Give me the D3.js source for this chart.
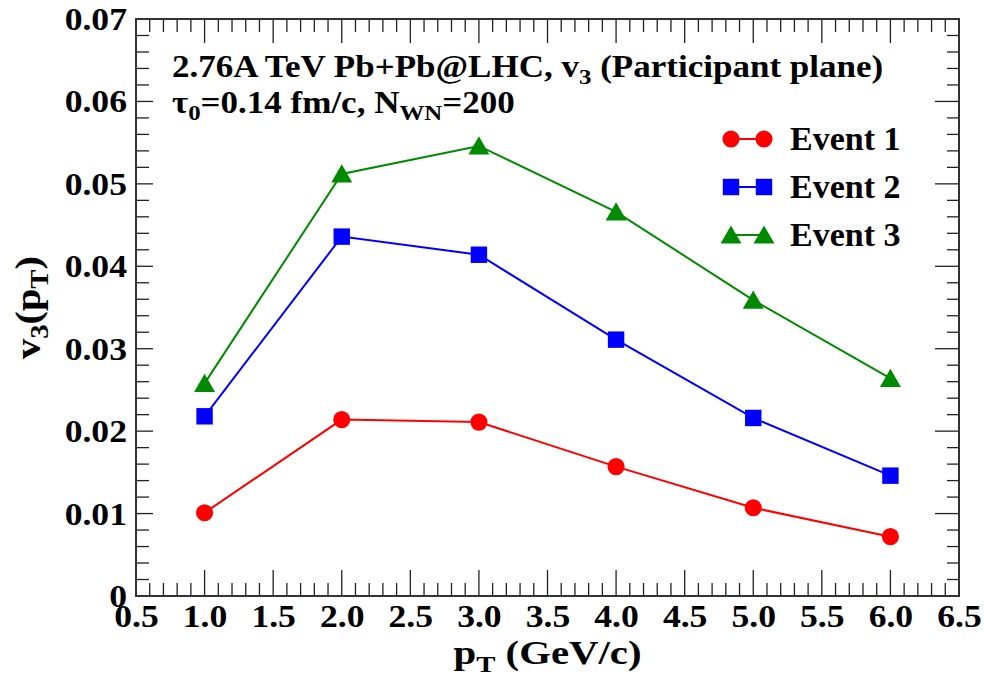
<!DOCTYPE html>
<html>
<head>
<meta charset="utf-8">
<script src="https://cdn.jsdelivr.net/npm/d3@7"></script>
<style>
  html, body { margin: 0; padding: 0; background: #fff; }
  svg { display: block; }
  text { font-family: "Liberation Serif", "Times New Roman", serif; font-weight: bold; fill: #000; }
</style>
</head>
<body>
<svg id="chart" width="984" height="680"></svg>
<script>
// pT bins (GeV/c)
const pT = [1.0, 2.0, 3.0, 4.0, 5.0, 6.0];
// v3(pT) for three events
const event1 = [0.0101, 0.0214, 0.0211, 0.0157, 0.0107, 0.0072];
const event2 = [0.0218, 0.0436, 0.0414, 0.0311, 0.0216, 0.0146];
const event3 = [0.0258, 0.0512, 0.0546, 0.0466, 0.0359, 0.0264];
const seriesNames = ["Event 1", "Event 2", "Event 3"];
const seriesColors = ["#ff0000", "#0000ff", "#008a00"];
const seriesSymbols = ["circle", "square", "triangle"];
const xTickLabels = ["0.5", "1.0", "1.5", "2.0", "2.5", "3.0", "3.5", "4.0", "4.5", "5.0", "5.5", "6.0", "6.5"];
const yTickLabels = ["0", "0.01", "0.02", "0.03", "0.04", "0.05", "0.06", "0.07"];

const svg = d3.select("#chart");
const frame = { left: 136, right: 959, top: 19, bottom: 596 };

const x = d3.scaleLinear().domain([0.5, 6.5]).range([frame.left, frame.right]);
const y = d3.scaleLinear().domain([0, 0.07]).range([frame.bottom, frame.top]);

// Wide bold serif lettering: text anchored at (px, py), stretched horizontally by sx
function wideText(parent, px, py, size, sx, anchor, rotate) {
  const rot = rotate ? ` rotate(${rotate})` : "";
  return parent.append("text")
    .attr("transform", `translate(${px},${py})${rot} scale(${sx},1)`)
    .attr("text-anchor", anchor || "start")
    .attr("font-size", size);
}

// Tick marks drawn inside the frame on all four sides
const ticks = svg.append("g").attr("stroke", "#222").attr("stroke-width", 1.3);
const xMinor = d3.range(0, 61).map(i => 0.5 + i * 0.1);
xMinor.forEach((v, i) => {
  const major = i % 5 === 0;
  const px = x(v);
  ticks.append("line").attr("x1", px).attr("x2", px)
    .attr("y1", frame.bottom).attr("y2", frame.bottom - (major ? 26 : 13));
  ticks.append("line").attr("x1", px).attr("x2", px)
    .attr("y1", frame.top).attr("y2", frame.top + (major ? 24 : 13));
});
const yMinor = d3.range(0, 36).map(i => i * 0.002);
yMinor.forEach((v, i) => {
  const major = i % 5 === 0;
  const py = y(v);
  ticks.append("line").attr("y1", py).attr("y2", py)
    .attr("x1", frame.left).attr("x2", frame.left + (major ? 17 : 13));
  ticks.append("line").attr("y1", py).attr("y2", py)
    .attr("x1", frame.right).attr("x2", frame.right - (major ? 24 : 12));
});

// Frame
svg.append("rect")
  .attr("x", frame.left).attr("y", frame.top)
  .attr("width", frame.right - frame.left).attr("height", frame.bottom - frame.top)
  .attr("fill", "none").attr("stroke", "#333").attr("stroke-width", 2);

// Tick labels, positioned by the axis generators
const xAxis = d3.axisBottom(x)
  .tickValues(xTickLabels.map(Number))
  .tickFormat((d, i) => xTickLabels[i])
  .tickSize(0).tickPadding(0);
const gx = svg.append("g").attr("transform", `translate(0,${frame.bottom})`).call(xAxis);
gx.select(".domain").remove();
gx.selectAll(".tick text")
  .attr("font-size", 31).attr("dy", null).attr("y", 0)
  .attr("transform", "translate(0,31) scale(1.15,1)")
  .style("font-family", '"Liberation Serif", serif').style("font-weight", "bold").attr("fill", "#000");

const yAxis = d3.axisLeft(y)
  .tickValues(yTickLabels.map(Number))
  .tickFormat((d, i) => yTickLabels[i])
  .tickSize(0).tickPadding(0);
const gy = svg.append("g").attr("transform", `translate(${frame.left},0)`).call(yAxis);
gy.select(".domain").remove();
gy.selectAll(".tick text")
  .attr("font-size", 31).attr("x", 0).attr("dy", "0.34em")
  .attr("transform", "translate(-9,0) scale(1.15,1)")
  .style("font-family", '"Liberation Serif", serif').style("font-weight", "bold").attr("fill", "#000");

// Axis titles
const xt = wideText(svg, (frame.left + frame.right) / 2, 664, 34, 1.2, "middle");
xt.append("tspan").text("p");
xt.append("tspan").attr("font-size", 24).attr("dy", 8).text("T");
xt.append("tspan").attr("dy", -8).text(" (GeV/c)");

const yt = wideText(svg, 40, (frame.top + frame.bottom) / 2, 35, 1.15, "middle", -90);
yt.append("tspan").text("v");
yt.append("tspan").attr("font-size", 25).attr("dy", 8).text("3");
yt.append("tspan").attr("dy", -8).text("(p");
yt.append("tspan").attr("font-size", 25).attr("dy", 8).text("T");
yt.append("tspan").attr("dy", -8).text(")");

// Annotation
const a1 = wideText(svg, 172, 77, 31, 1.13);
a1.append("tspan").text("2.76A TeV Pb+Pb@LHC, v");
a1.append("tspan").attr("font-size", 22).attr("dy", 7).text("3");
a1.append("tspan").attr("dy", -7).text(" (Participant plane)");
const a2 = wideText(svg, 172, 113, 31, 1.13);
a2.append("tspan").text("τ");
a2.append("tspan").attr("font-size", 22).attr("dy", 7).text("0");
a2.append("tspan").attr("dy", -7).text("=0.14 fm/c, N");
a2.append("tspan").attr("font-size", 22).attr("dy", 7).text("WN");
a2.append("tspan").attr("dy", -7).text("=200");

// Marker drawing
const symbolTypes = { circle: d3.symbolCircle, square: d3.symbolSquare, triangle: d3.symbolTriangle };
const symbolSizes = { circle: 230, square: 270, triangle: 190 };
function marker(g, kind, color, cx, cy) {
  const sym = d3.symbol().type(symbolTypes[kind]).size(symbolSizes[kind]);
  // centre triangles on their bounding box
  const off = kind === "triangle" ? 2.5 : 0;
  g.append("path").attr("d", sym())
    .attr("transform", `translate(${cx},${cy + off})`)
    .attr("fill", color);
}

const allSeries = [event1, event2, event3];
const line = d3.line().x(d => x(d[0])).y(d => y(d[1]));
allSeries.forEach((vals, s) => {
  const pts = pT.map((p, i) => [p, vals[i]]);
  const g = svg.append("g");
  g.append("path").attr("d", line(pts)).attr("fill", "none")
    .attr("stroke", seriesColors[s]).attr("stroke-width", 2);
  pts.forEach(p => marker(g, seriesSymbols[s], seriesColors[s], x(p[0]), y(p[1])));
});

// Legend
seriesNames.forEach((name, s) => {
  const cy = 139 + s * 48;
  const g = svg.append("g");
  g.append("line").attr("x1", 731).attr("x2", 764).attr("y1", cy).attr("y2", cy)
    .attr("stroke", seriesColors[s]).attr("stroke-width", 2);
  marker(g, seriesSymbols[s], seriesColors[s], 731, cy);
  marker(g, seriesSymbols[s], seriesColors[s], 764, cy);
  wideText(g, 790, cy + 11, 34, 1.0).text(name);
});
</script>
</body>
</html>
